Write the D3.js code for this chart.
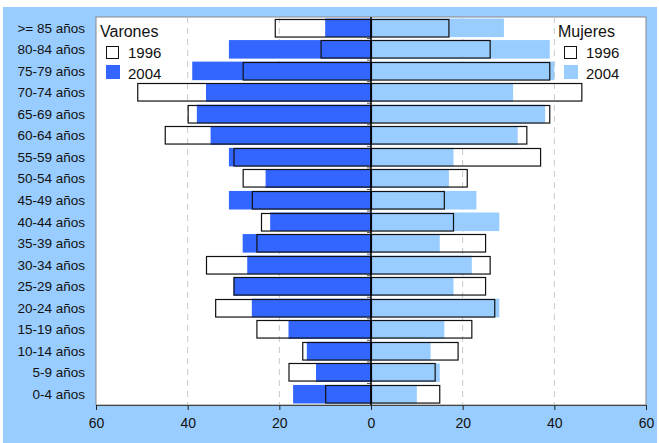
<!DOCTYPE html>
<html><head><meta charset="utf-8">
<script src="https://cdn.jsdelivr.net/npm/d3@7"></script>
<style>body{margin:0;background:#fff;}svg{display:block;font-family:"Liberation Sans",Arial,sans-serif;}</style>
</head><body><svg id="c" width="659" height="443"></svg>
<script>
const categories = [">= 85 años","80-84 años","75-79 años","70-74 años","65-69 años","60-64 años","55-59 años","50-54 años","45-49 años","40-44 años","35-39 años","30-34 años","25-29 años","20-24 años","15-19 años","10-14 años","5-9 años","0-4 años"];
const varones1996 = [21,11,28,51,40,45,30,28,26,24,25,36,30,34,25,15,18,10];
const varones2004 = [10,31,39,36,38,35,31,23,31,22,28,27,30,26,18,14,12,17];
const mujeres1996 = [17,26,39,46,39,34,37,21,16,18,25,26,25,27,22,19,14,15];
const mujeres2004 = [29,39,40,31,38,32,18,17,23,28,15,22,18,28,16,13,15,10];
const tickValues = [-60,-40,-20,0,20,40,60];
const gridValues = [-40,-20,20,40];

const svg = d3.select("#c");
svg.append("rect").attr("x",3).attr("y",7).attr("width",654).attr("height",436).attr("fill","#99CCFF");

const L=96,R=646,T=17,B=405;
const x = d3.scaleLinear().domain([-60,60]).range([L,R]);
const y = d3.scaleBand().domain(categories).range([T,B]).paddingInner(0.14).paddingOuter(0.07);

svg.append("rect").attr("x",L).attr("y",T).attr("width",R-L).attr("height",B-T).attr("fill","#fff").attr("stroke","#888").attr("stroke-width",1);

svg.append("g").selectAll("line").data(gridValues).join("line")
  .attr("x1",d=>x(d)).attr("x2",d=>x(d)).attr("y1",T).attr("y2",B)
  .attr("stroke","#c8c8c8").attr("stroke-dasharray","6,5").attr("stroke-width",1);

const rows = categories.map((c,i)=>({c,v96:varones1996[i],v04:varones2004[i],m96:mujeres1996[i],m04:mujeres2004[i]}));

// 2004 filled bars
svg.append("g").selectAll("rect").data(rows).join("rect")
  .attr("x",d=>x(-d.v04)).attr("width",d=>x(0)-x(-d.v04))
  .attr("y",d=>y(d.c)).attr("height",y.bandwidth()).attr("fill","#3366FF");
svg.append("g").selectAll("rect").data(rows).join("rect")
  .attr("x",x(0)).attr("width",d=>x(d.m04)-x(0))
  .attr("y",d=>y(d.c)).attr("height",y.bandwidth()).attr("fill","#99CCFF");
// 1996 outline bars (no fill)
svg.append("g").selectAll("rect").data(rows).join("rect")
  .attr("x",d=>x(-d.v96)+0.5).attr("width",d=>x(0)-x(-d.v96))
  .attr("y",d=>Math.round(y(d.c))+0.5).attr("height",y.bandwidth()-1)
  .attr("fill","none").attr("stroke","#111").attr("stroke-width",1.2);
svg.append("g").selectAll("rect").data(rows).join("rect")
  .attr("x",x(0)).attr("width",d=>x(d.m96)-x(0))
  .attr("y",d=>Math.round(y(d.c))+0.5).attr("height",y.bandwidth()-1)
  .attr("fill","none").attr("stroke","#111").attr("stroke-width",1.2);

// center axis
const yAxisG = svg.append("g").attr("transform",`translate(${x(0)},0)`);
const bounds = categories.map((c,i)=>T+(B-T)/categories.length*i).slice(1);
yAxisG.selectAll("line.t").data(bounds).join("line").attr("class","t")
  .attr("x1",-4).attr("x2",0).attr("y1",d=>d).attr("y2",d=>d).attr("stroke","#555");
yAxisG.append("line").attr("y1",T).attr("y2",B).attr("stroke","#000").attr("stroke-width",1.5);

// category labels
svg.append("g").selectAll("text").data(categories).join("text")
  .attr("x",85).attr("y",d=>y(d)+y.bandwidth()/2).attr("dy","0.35em")
  .attr("text-anchor","end").attr("font-size",13.5).attr("fill","#111").text(d=>d);

// bottom axis
const xAxis = d3.axisBottom(x).tickValues(tickValues).tickFormat(d=>Math.abs(d)).tickSize(5).tickPadding(8);
const xg = svg.append("g").attr("transform",`translate(0,${B})`).call(xAxis);
xg.select(".domain").attr("stroke","#444");
xg.selectAll(".tick line").attr("stroke","#222");
xg.selectAll(".tick text").attr("font-size",14).attr("fill","#111").attr("font-family","Liberation Sans, Arial, sans-serif");

// legends
function legend(x0,title,fill2004){
  const g = svg.append("g");
  g.append("text").attr("x",x0-6).attr("y",37).attr("font-size",16).attr("fill","#111").text(title);
  g.append("rect").attr("x",x0+0.5).attr("y",46.5).attr("width",12).attr("height",12).attr("fill","#fff").attr("stroke","#111");
  g.append("text").attr("x",x0+22).attr("y",58).attr("font-size",15).attr("fill","#111").text("1996");
  g.append("rect").attr("x",x0).attr("y",65).attr("width",14).attr("height",14).attr("fill",fill2004);
  g.append("text").attr("x",x0+22).attr("y",79).attr("font-size",15).attr("fill","#111").text("2004");
}
legend(106,"Varones","#3366FF");
legend(564,"Mujeres","#99CCFF");
</script></body></html>
